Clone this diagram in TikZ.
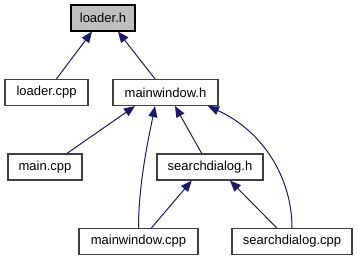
\documentclass[tikz,border=0pt]{standalone}
\usepackage{fontspec}
\setmainfont{Liberation Sans}
\usetikzlibrary{arrows.meta}
\definecolor{edgeblue}{HTML}{191970}
\definecolor{frame}{HTML}{404040}
\definecolor{rootfill}{HTML}{BFBFBF}
\begin{document}
\begin{tikzpicture}[x=1pt,y=-1pt,
  file/.style={draw=frame, line width=1.2pt, fill=white, inner sep=0pt,
    minimum height=26pt, font=\fontsize{13}{15}\selectfont},
  rootfile/.style={file, draw=black, fill=rootfill},
  dep/.style={draw=edgeblue, line width=1pt,
    -{Triangle[length=11pt,width=9pt]}, fill=none}]
\useasboundingbox (0,0) rectangle (357,261);

% include hierarchy, one row per rank
\node[rootfile, minimum width=64pt]  (loaderh)   at (103,18)    {loader.h};
\node[file, minimum width=83pt]      (loadercpp) at (46.5,92.5) {loader.cpp};
\node[file, minimum width=105pt]     (mwh)       at (165.5,92.5) {mainwindow.h};
\node[file, minimum width=74pt]      (maincpp)   at (45,167)    {main.cpp};
\node[file, minimum width=106pt]     (sdh)       at (210,167)   {searchdialog.h};
\node[file, minimum width=119pt]     (mwcpp)     at (138.5,241.5) {mainwindow.cpp};
\node[file, minimum width=120pt]     (sdcpp)     at (292,241.5) {searchdialog.cpp};

% dependency edges, arrow at the included header
\draw[dep] ([xshift=10pt]loadercpp.north) -- ([xshift=-11pt]loaderh.south);
\draw[dep] ([xshift=-10.5pt]mwh.north) -- ([xshift=15pt]loaderh.south);
\draw[dep] ([xshift=22pt]maincpp.north) -- ([xshift=-30.5pt]mwh.south);
\draw[dep] (mwcpp.north) .. controls +(0,-45) and +(-6,30) .. ([xshift=-10.5pt]mwh.south);
\draw[dep] ([xshift=-8.3pt]sdh.north) -- ([xshift=9.5pt]mwh.south);
\draw[dep] (sdcpp.north) .. controls +(0,-50) and +(55,25) .. ([xshift=42.5pt]mwh.south);
\draw[dep] ([xshift=13pt]mwcpp.north) -- ([xshift=-18.3pt]sdh.south);
\draw[dep] ([xshift=-15.3pt]sdcpp.north) -- ([xshift=20pt]sdh.south);
\end{tikzpicture}
\end{document}
